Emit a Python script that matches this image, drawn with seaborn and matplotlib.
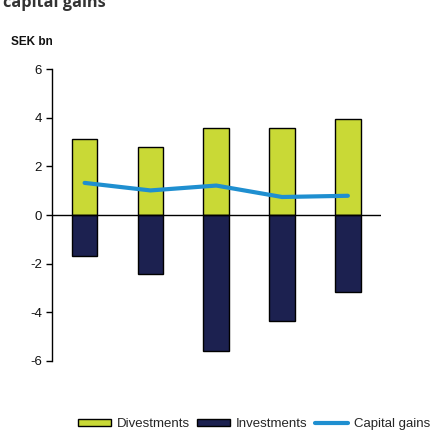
import numpy as np
import pandas as pd
import matplotlib
matplotlib.use("Agg")
import matplotlib.pyplot as plt
import seaborn as sns

# values (SEK bn)
years = ["Y1", "Y2", "Y3", "Y4", "Y5"]
divestments = [3.12, 2.80, 3.59, 3.59, 3.96]
investments = [-1.69, -2.43, -5.60, -4.34, -3.17]
capital_gains = [1.32, 1.01, 1.21, 0.74, 0.79]

green = "#c9d936"
navy = "#1c2150"
blue = "#1f8fd0"

df = pd.DataFrame({
    "year": years,
    "pos": range(len(years)),
    "Divestments": divestments,
    "Investments": investments,
    "Capital gains": capital_gains,
})

sns.set_style("white")
plt.rcParams["font.family"] = ["Liberation Sans", "DejaVu Sans"]
plt.rcParams["axes.unicode_minus"] = False

fig = plt.figure(figsize=(4.33, 4.30), dpi=100)
ax = fig.add_axes([0.1194, 0.1605, 0.760, 0.679])

sns.barplot(data=df, x="pos", y="Divestments", color=green, width=0.39,
            edgecolor="black", linewidth=1, saturation=1, ax=ax)
sns.barplot(data=df, x="pos", y="Investments", color=navy, width=0.39,
            edgecolor="black", linewidth=1, saturation=1, ax=ax)
sns.lineplot(data=df, x="pos", y="Capital gains", color=blue, linewidth=3,
             ax=ax, zorder=5)

ax.axhline(0, color="black", linewidth=1, zorder=4)
ax.set_xlim(-0.5, 4.5)
ax.set_ylim(-6, 6)
ax.set_yticks(np.arange(-6, 7, 2))
ax.set_xticks([])
ax.set_xlabel("")
ax.set_ylabel("")
sns.despine(ax=ax, top=True, right=True, bottom=True)
ax.spines["left"].set_color("black")
ax.spines["left"].set_linewidth(1)
ax.tick_params(axis="y", left=True, direction="out", length=4, width=1,
               color="black", labelsize=9.5, labelcolor="#111111", pad=3)

# chart title, cut by the top edge as in the source image
fig.text(0.007, 1 - 7 / 430, "capital gains", fontsize=11.8, fontweight="bold",
         family=["Open Sans", "DejaVu Sans"], color="#333333", va="baseline")
fig.text(11 / 433, 1 - 42 / 430, "SEK bn", fontsize=8.5, fontweight="bold",
         color="#111111", va="center")

handles = [
    plt.Rectangle((0, 0), 1, 1, facecolor=green, edgecolor="black", linewidth=1),
    plt.Rectangle((0, 0), 1, 1, facecolor=navy, edgecolor="black", linewidth=1),
    plt.Line2D([0], [0], color=blue, linewidth=3),
]
fig.legend(handles, ["Divestments", "Investments", "Capital gains"],
           loc="center left", bbox_to_anchor=(78 / 433, 1 - 424 / 430),
           ncol=3, frameon=False, fontsize=9.5, handlelength=2.5,
           handleheight=0.5, handletextpad=0.45, columnspacing=0.55,
           borderpad=0, borderaxespad=0)

fig.savefig("out.png", dpi=100)
